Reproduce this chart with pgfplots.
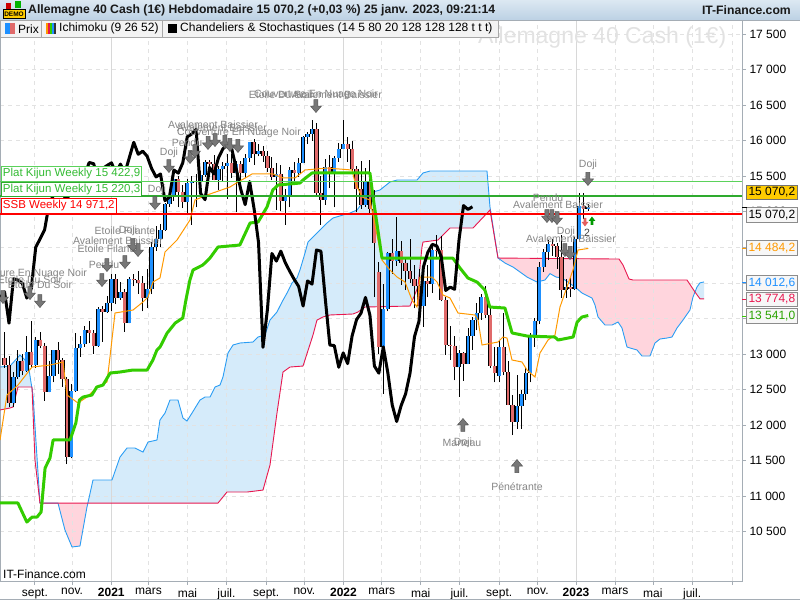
\documentclass[border=0pt]{standalone}
\usepackage{fontspec}
\setmainfont{Liberation Sans}
\usepackage{pgfplots}
\pgfplotsset{compat=1.18}
\usepackage{pgfplotstable}
\usepgfplotslibrary{fillbetween}

\definecolor{cblue}{HTML}{1E90FF}
\definecolor{cred}{HTML}{E06A6A}
\definecolor{kijun}{HTML}{33CC00}
\definecolor{tenkan}{HTML}{FF9900}
\definecolor{ssa}{HTML}{2A9DF4}
\definecolor{ssb}{HTML}{E8174F}
\definecolor{cloudb}{HTML}{D5EBFA}
\definecolor{cloudp}{HTML}{FFD5DD}
\definecolor{annot}{HTML}{858585}
\definecolor{arrowg}{HTML}{777777}
\definecolor{arrowd}{HTML}{555555}
\definecolor{hdrtop}{HTML}{DCE8F2}
\definecolor{hdrbot}{HTML}{BCD1E4}
\definecolor{gridc}{HTML}{E2E2E2}
\definecolor{yearc}{HTML}{D8D8D8}
\definecolor{framec}{HTML}{A5ADB5}
\definecolor{lgreen}{HTML}{5BD25B}
\definecolor{dgreen}{HTML}{2EAA2E}
\definecolor{tgreen}{HTML}{33BB33}
\definecolor{wmark}{HTML}{E2E2E2}
\definecolor{lgbg}{HTML}{F3F3F3}
\definecolor{lgbd}{HTML}{A8A8A8}
\definecolor{gold}{HTML}{FFCC00}

\pgfdeclareplotmark{darr}{%
  \pgfpathmoveto{\pgfpoint{-2bp}{6.5bp}}%
  \pgfpathlineto{\pgfpoint{2bp}{6.5bp}}%
  \pgfpathlineto{\pgfpoint{2bp}{0bp}}%
  \pgfpathlineto{\pgfpoint{5.5bp}{0bp}}%
  \pgfpathlineto{\pgfpoint{0bp}{-6.5bp}}%
  \pgfpathlineto{\pgfpoint{-5.5bp}{0bp}}%
  \pgfpathlineto{\pgfpoint{-2bp}{0bp}}%
  \pgfpathclose
  \pgfusepathqfillstroke}
\pgfdeclareplotmark{uarr}{%
  \pgfpathmoveto{\pgfpoint{-2bp}{-6.5bp}}%
  \pgfpathlineto{\pgfpoint{2bp}{-6.5bp}}%
  \pgfpathlineto{\pgfpoint{2bp}{0bp}}%
  \pgfpathlineto{\pgfpoint{5.5bp}{0bp}}%
  \pgfpathlineto{\pgfpoint{0bp}{6.5bp}}%
  \pgfpathlineto{\pgfpoint{-5.5bp}{0bp}}%
  \pgfpathlineto{\pgfpoint{-2bp}{0bp}}%
  \pgfpathclose
  \pgfusepathqfillstroke}
\pgfdeclareplotmark{sdarr}{%
  \pgfpathmoveto{\pgfpoint{-1.3bp}{4bp}}%
  \pgfpathlineto{\pgfpoint{1.3bp}{4bp}}%
  \pgfpathlineto{\pgfpoint{1.3bp}{0bp}}%
  \pgfpathlineto{\pgfpoint{3.4bp}{0bp}}%
  \pgfpathlineto{\pgfpoint{0bp}{-4.5bp}}%
  \pgfpathlineto{\pgfpoint{-3.4bp}{0bp}}%
  \pgfpathlineto{\pgfpoint{-1.3bp}{0bp}}%
  \pgfpathclose
  \pgfusepathqfill}
\pgfdeclareplotmark{suarr}{%
  \pgfpathmoveto{\pgfpoint{-1.3bp}{-4bp}}%
  \pgfpathlineto{\pgfpoint{1.3bp}{-4bp}}%
  \pgfpathlineto{\pgfpoint{1.3bp}{0bp}}%
  \pgfpathlineto{\pgfpoint{3.4bp}{0bp}}%
  \pgfpathlineto{\pgfpoint{0bp}{4.5bp}}%
  \pgfpathlineto{\pgfpoint{-3.4bp}{0bp}}%
  \pgfpathlineto{\pgfpoint{-1.3bp}{0bp}}%
  \pgfpathclose
  \pgfusepathqfill}

% wicks: low / high per weekly candle
\pgfplotstableread[row sep=\\]{
x y\\
-24 12800\\ -24 13310\\ -24 nan\\
-23 12250\\ -23 12970\\ -23 nan\\
-22 12250\\ -22 12750\\ -22 nan\\
-21 12650\\ -21 13060\\ -21 nan\\
-20 12700\\ -20 13000\\ -20 nan\\
-19 12750\\ -19 13250\\ -19 nan\\
-18 12800\\ -18 13460\\ -18 nan\\
-17 12800\\ -17 13240\\ -17 nan\\
-16 13080\\ -16 13310\\ -16 nan\\
-15 12340\\ -15 13150\\ -15 nan\\
-14 12460\\ -14 12900\\ -14 nan\\
-13 12600\\ -13 13060\\ -13 nan\\
-12 12720\\ -12 13170\\ -12 nan\\
-11 12540\\ -11 12950\\ -11 nan\\
-10 11450\\ -10 12680\\ -10 nan\\
-9 11530\\ -9 12580\\ -9 nan\\
-8 12470\\ -8 13300\\ -8 nan\\
-7 12960\\ -7 13250\\ -7 nan\\
-6 13100\\ -6 13400\\ -6 nan\\
-5 13150\\ -5 13460\\ -5 nan\\
-4 13000\\ -4 13340\\ -4 nan\\
-3 13100\\ -3 13660\\ -3 nan\\
-2 13170\\ -2 13680\\ -2 nan\\
-1 13580\\ -1 13810\\ -1 nan\\
0 13600\\ 0 14130\\ 0 nan\\
1 13700\\ 1 14130\\ 1 nan\\
2 13760\\ 2 14010\\ 2 nan\\
3 13310\\ 3 13920\\ 3 nan\\
4 13430\\ 4 14080\\ 4 nan\\
5 13950\\ 5 14120\\ 5 nan\\
6 13850\\ 6 14170\\ 6 nan\\
7 13600\\ 7 14100\\ 7 nan\\
8 13650\\ 8 14200\\ 8 nan\\
9 13840\\ 9 14570\\ 9 nan\\
10 14450\\ 10 14800\\ 10 nan\\
11 14510\\ 11 14830\\ 11 nan\\
12 14730\\ 12 15130\\ 12 nan\\
13 15070\\ 13 15250\\ 13 nan\\
14 15150\\ 14 15500\\ 14 nan\\
15 15060\\ 15 15500\\ 15 nan\\
16 15050\\ 16 15370\\ 16 nan\\
17 14950\\ 17 15460\\ 17 nan\\
18 14820\\ 18 15500\\ 18 nan\\
19 15060\\ 19 15530\\ 19 nan\\
20 15330\\ 20 15570\\ 20 nan\\
21 15490\\ 21 15730\\ 21 nan\\
22 15520\\ 22 15730\\ 22 nan\\
23 15440\\ 23 15800\\ 23 nan\\
24 15300\\ 24 15640\\ 24 nan\\
25 15420\\ 25 15700\\ 25 nan\\
26 15180\\ 26 15810\\ 26 nan\\
27 15480\\ 27 15810\\ 27 nan\\
28 14990\\ 28 15710\\ 28 nan\\
29 15410\\ 29 15720\\ 29 nan\\
30 15470\\ 30 15810\\ 30 nan\\
31 15700\\ 31 15980\\ 31 nan\\
32 15660\\ 32 16030\\ 32 nan\\
33 15780\\ 33 15950\\ 33 nan\\
34 15700\\ 34 15930\\ 34 nan\\
35 15560\\ 35 15850\\ 35 nan\\
36 15440\\ 36 15770\\ 36 nan\\
37 15030\\ 37 15680\\ 37 nan\\
38 15010\\ 38 15660\\ 38 nan\\
39 14820\\ 39 15320\\ 39 nan\\
40 15060\\ 40 15630\\ 40 nan\\
41 15430\\ 41 15700\\ 41 nan\\
42 15490\\ 42 15760\\ 42 nan\\
43 15680\\ 43 16070\\ 43 nan\\
44 15950\\ 44 16120\\ 44 nan\\
45 16000\\ 45 16290\\ 45 nan\\
46 15230\\ 46 16250\\ 46 nan\\
47 14820\\ 47 15500\\ 47 nan\\
48 15100\\ 48 15740\\ 48 nan\\
49 15340\\ 49 15800\\ 49 nan\\
50 15060\\ 50 15780\\ 50 nan\\
51 15700\\ 51 15960\\ 51 nan\\
52 15880\\ 52 16290\\ 52 nan\\
53 15700\\ 53 16050\\ 53 nan\\
54 15550\\ 54 16000\\ 54 nan\\
55 14990\\ 55 15640\\ 55 nan\\
56 15040\\ 56 15720\\ 56 nan\\
57 15070\\ 57 15620\\ 57 nan\\
58 14970\\ 58 15730\\ 58 nan\\
59 13800\\ 59 15300\\ 59 nan\\
60 13000\\ 60 14300\\ 60 nan\\
61 12440\\ 61 13980\\ 61 nan\\
62 13600\\ 62 14430\\ 62 nan\\
63 14130\\ 63 14620\\ 63 nan\\
64 14240\\ 64 14930\\ 64 nan\\
65 13970\\ 65 14590\\ 65 nan\\
66 13900\\ 66 14370\\ 66 nan\\
67 14000\\ 67 14620\\ 67 nan\\
68 13640\\ 68 14250\\ 68 nan\\
69 13570\\ 69 14190\\ 69 nan\\
70 13380\\ 70 14060\\ 70 nan\\
71 13800\\ 71 14250\\ 71 nan\\
72 13860\\ 72 14520\\ 72 nan\\
73 14330\\ 73 14680\\ 73 nan\\
74 13740\\ 74 14660\\ 74 nan\\
75 12990\\ 75 13800\\ 75 nan\\
76 12920\\ 76 13390\\ 76 nan\\
77 12630\\ 77 13250\\ 77 nan\\
78 12400\\ 78 13050\\ 78 nan\\
79 12620\\ 79 13030\\ 79 nan\\
80 12860\\ 80 13370\\ 80 nan\\
81 13060\\ 81 13520\\ 81 nan\\
82 13330\\ 82 13720\\ 82 nan\\
83 13480\\ 83 13850\\ 83 nan\\
84 13500\\ 84 13950\\ 84 nan\\
85 12800\\ 85 13660\\ 85 nan\\
86 12600\\ 86 13100\\ 86 nan\\
87 12600\\ 87 13180\\ 87 nan\\
88 12700\\ 88 13570\\ 88 nan\\
89 12280\\ 89 12900\\ 89 nan\\
90 11860\\ 90 12420\\ 90 nan\\
91 11950\\ 91 12700\\ 91 nan\\
92 11950\\ 92 12500\\ 92 nan\\
93 12350\\ 93 12800\\ 93 nan\\
94 12600\\ 94 13300\\ 94 nan\\
95 13100\\ 95 13500\\ 95 nan\\
96 13420\\ 96 14300\\ 96 nan\\
97 14150\\ 97 14480\\ 97 nan\\
98 14320\\ 98 14600\\ 98 nan\\
99 14380\\ 99 14620\\ 99 nan\\
100 14200\\ 100 14560\\ 100 nan\\
101 13790\\ 101 14680\\ 101 nan\\
102 13790\\ 102 14050\\ 102 nan\\
103 13800\\ 103 14080\\ 103 nan\\
104 13900\\ 104 14650\\ 104 nan\\
105 14600\\ 105 15270\\ 105 nan\\
106 14900\\ 106 15270\\ 106 nan\\
107 15010\\ 107 15110\\ 107 nan\\
}\wicks

% rising candles: open / close
\pgfplotstableread[row sep=\\]{
x y\\
-22 12313\\ -22 12674\\ -22 nan\\
-21 12674\\ -21 12901\\ -21 nan\\
-19 12765\\ -19 13033\\ -19 nan\\
-17 12842\\ -17 13202\\ -17 nan\\
-14 12469\\ -14 12689\\ -14 nan\\
-13 12689\\ -13 13051\\ -13 nan\\
-9 11556\\ -9 12480\\ -9 nan\\
-8 12480\\ -8 13077\\ -8 nan\\
-7 13077\\ -7 13137\\ -7 nan\\
-6 13137\\ -6 13335\\ -6 nan\\
-3 13114\\ -3 13630\\ -3 nan\\
-1 13587\\ -1 13719\\ -1 nan\\
0 13719\\ 0 14050\\ 0 nan\\
2 13787\\ 2 13874\\ 2 nan\\
4 13433\\ 4 14057\\ 4 nan\\
8 13786\\ 8 13920\\ 8 nan\\
9 13920\\ 9 14502\\ 9 nan\\
10 14502\\ 10 14621\\ 10 nan\\
11 14621\\ 11 14749\\ 11 nan\\
12 14749\\ 12 15107\\ 12 nan\\
13 15107\\ 13 15234\\ 13 nan\\
14 15234\\ 14 15460\\ 14 nan\\
17 15136\\ 17 15400\\ 17 nan\\
18 15400\\ 18 15416\\ 18 nan\\
19 15416\\ 19 15437\\ 19 nan\\
20 15437\\ 20 15520\\ 20 nan\\
21 15520\\ 21 15693\\ 21 nan\\
24 15448\\ 24 15607\\ 24 nan\\
25 15607\\ 25 15650\\ 25 nan\\
26 15650\\ 26 15688\\ 26 nan\\
28 15540\\ 28 15670\\ 28 nan\\
30 15544\\ 30 15761\\ 30 nan\\
31 15761\\ 31 15977\\ 31 nan\\
33 15808\\ 33 15852\\ 33 nan\\
37 15490\\ 37 15531\\ 37 nan\\
39 15156\\ 39 15206\\ 39 nan\\
40 15206\\ 40 15587\\ 40 nan\\
42 15543\\ 42 15689\\ 42 nan\\
43 15689\\ 43 16054\\ 43 nan\\
44 16054\\ 44 16094\\ 44 nan\\
45 16094\\ 45 16160\\ 45 nan\\
48 15170\\ 48 15623\\ 48 nan\\
50 15532\\ 50 15756\\ 50 nan\\
51 15756\\ 51 15885\\ 51 nan\\
52 15885\\ 52 15948\\ 52 nan\\
57 15100\\ 57 15425\\ 57 nan\\
61 13094\\ 61 13628\\ 61 nan\\
62 13628\\ 62 14413\\ 62 nan\\
64 14306\\ 64 14446\\ 64 nan\\
70 13674\\ 70 14027\\ 70 nan\\
72 13982\\ 72 14462\\ 72 nan\\
78 12813\\ 78 13015\\ 78 nan\\
80 12864\\ 80 13254\\ 80 nan\\
81 13254\\ 81 13484\\ 81 nan\\
82 13484\\ 82 13574\\ 82 nan\\
83 13574\\ 83 13795\\ 83 nan\\
87 12690\\ 87 13100\\ 87 nan\\
91 12050\\ 91 12273\\ 91 nan\\
92 12273\\ 92 12438\\ 92 nan\\
93 12438\\ 93 12731\\ 93 nan\\
94 12731\\ 94 13243\\ 94 nan\\
95 13243\\ 95 13460\\ 95 nan\\
96 13460\\ 96 14224\\ 96 nan\\
97 14224\\ 97 14431\\ 97 nan\\
98 14431\\ 98 14541\\ 98 nan\\
102 13893\\ 102 13940\\ 102 nan\\
104 13910\\ 104 14610\\ 104 nan\\
105 14610\\ 105 15087\\ 105 nan\\
107 15033\\ 107 15070\\ 107 nan\\
}\upbodies

% falling candles: open / close
\pgfplotstableread[row sep=\\]{
x y\\
-24 12950\\ -24 12838\\ -24 nan\\
-23 12838\\ -23 12313\\ -23 nan\\
-20 12901\\ -20 12765\\ -20 nan\\
-18 13033\\ -18 12842\\ -18 nan\\
-16 13202\\ -16 13116\\ -16 nan\\
-15 13116\\ -15 12469\\ -15 nan\\
-12 13051\\ -12 12909\\ -12 nan\\
-11 12909\\ -11 12646\\ -11 nan\\
-10 12646\\ -10 11556\\ -10 nan\\
-5 13335\\ -5 13298\\ -5 nan\\
-4 13298\\ -4 13114\\ -4 nan\\
-2 13630\\ -2 13587\\ -2 nan\\
1 14050\\ 1 13787\\ 1 nan\\
3 13874\\ 3 13433\\ 3 nan\\
5 14057\\ 5 14040\\ 5 nan\\
6 14040\\ 6 13993\\ 6 nan\\
7 13993\\ 7 13786\\ 7 nan\\
15 15460\\ 15 15280\\ 15 nan\\
16 15280\\ 16 15136\\ 16 nan\\
22 15693\\ 22 15675\\ 22 nan\\
23 15675\\ 23 15448\\ 23 nan\\
27 15688\\ 27 15540\\ 27 nan\\
29 15670\\ 29 15544\\ 29 nan\\
32 15977\\ 32 15808\\ 32 nan\\
34 15852\\ 34 15781\\ 34 nan\\
35 15781\\ 35 15609\\ 35 nan\\
36 15609\\ 36 15490\\ 36 nan\\
38 15531\\ 38 15156\\ 38 nan\\
41 15587\\ 41 15543\\ 41 nan\\
46 16160\\ 46 15257\\ 46 nan\\
47 15257\\ 47 15170\\ 47 nan\\
49 15623\\ 49 15532\\ 49 nan\\
53 15948\\ 53 15883\\ 53 nan\\
54 15883\\ 54 15603\\ 54 nan\\
55 15603\\ 55 15318\\ 55 nan\\
56 15318\\ 56 15100\\ 56 nan\\
58 15425\\ 58 15042\\ 58 nan\\
59 15042\\ 59 14567\\ 59 nan\\
60 14150\\ 60 13094\\ 60 nan\\
63 14413\\ 63 14306\\ 63 nan\\
65 14446\\ 65 14284\\ 65 nan\\
66 14284\\ 66 14163\\ 66 nan\\
67 14163\\ 67 14050\\ 67 nan\\
68 14050\\ 68 13950\\ 68 nan\\
69 13950\\ 69 13674\\ 69 nan\\
71 14027\\ 71 13982\\ 71 nan\\
73 14462\\ 73 14445\\ 73 nan\\
74 14460\\ 74 13762\\ 74 nan\\
75 13762\\ 75 13126\\ 75 nan\\
76 13126\\ 76 13110\\ 76 nan\\
77 13118\\ 77 12813\\ 77 nan\\
79 13015\\ 79 12864\\ 79 nan\\
84 13795\\ 84 13544\\ 84 nan\\
85 13544\\ 85 12830\\ 85 nan\\
86 12830\\ 86 12730\\ 86 nan\\
88 13100\\ 88 12741\\ 88 nan\\
89 12741\\ 89 12284\\ 89 nan\\
90 12284\\ 90 12050\\ 90 nan\\
99 14541\\ 99 14520\\ 99 nan\\
100 14520\\ 100 14370\\ 100 nan\\
101 14370\\ 101 13893\\ 101 nan\\
103 13940\\ 103 13910\\ 103 nan\\
106 15087\\ 106 15033\\ 106 nan\\
}\downbodies

\begin{document}
\begin{tikzpicture}[x=1bp,y=1bp]
\begin{scope}[x=1bp,y=-1bp,shift={(0,600bp)}]
  \node[anchor=base west, inner sep=0pt, font=\fontsize{23bp}{26bp}\selectfont, text=wmark] at (478,44) {Allemagne 40 Cash (1€)};
\end{scope}

\begin{axis}[
  at={(0bp,19bp)}, anchor=south west,
  width=742bp, height=561bp, scale only axis,
  set layers,
  fill between/on layer=axis background,
  xmin=-25.02, xmax=141.5, ymin=9807, ymax=17697,
  axis line style={draw=framec, line width=0.8bp},
  xtick={-17.2,-8.85,-0.05,8.3,17.05,25.8,34.7,43.3,52.05,60.65,69.4,78.1,87.0,95.65,104.25,113.0,121.5,130.3,139.25},
  xticklabels={sept.,nov.,\textbf{2021},mars,mai,juil.,sept.,nov.,\textbf{2022},mars,mai,juil.,sept.,nov.,\textbf{2023},mars,mai,juil.,},
  extra x ticks={-0.05,52.05,104.25},
  extra x tick labels={},
  extra x tick style={grid=major, major grid style={draw=yearc, solid, line width=0.8bp}},
  ytick={10500,11000,...,17500},
  yticklabels={10 500,11 000,11 500,12 000,12 500,13 000,13 500,14 000,14 500,15 000,15 500,16 000,16 500,17 000,17 500},
  ytick pos=right, yticklabel pos=right, xtick pos=bottom,
  tick align=outside, major tick length=4bp,
  tick style={draw=framec, line width=0.7bp},
  ticklabel style={font=\fontsize{12bp}{14bp}\selectfont, text=black},
  xmajorgrids, ymajorgrids,
  major grid style={draw=gridc, dash pattern=on 4bp off 4bp, line width=0.7bp},
  unbounded coords=jump,
  clip=true,
]
% Ichimoku cloud (Senkou A and Senkou B, shifted 26 weeks ahead)
\addplot[name path=SA, draw=none, forget plot] coordinates {
(-25.02,12816) (-22.78,12830) (-20.53,12985) (-18.74,12873) (-17.62,12423) (-16.05,10903) (-12.01,10903) (-10.44,10524) (-8.86,10285) (-7.07,10299) (-5.50,10847) (-4.15,11227) (0.11,11227) (1.91,11550) (3.48,11677) (5.27,11677) (7.07,11621) (8.19,11761) (10.21,11790) (10.88,12071) (12.01,12169) (13.13,12352) (14.92,12352) (16.04,12099) (16.94,12057) (18.07,12169) (19.86,12352) (20.98,12394) (22.11,12394) (23.23,12535) (24.35,12563) (25.02,12676) (26.14,13013) (27.27,13126) (28.84,13154) (31.76,13168) (32.88,13238) (34.45,13266) (35.57,13477) (37.14,13590) (38.27,13731) (39.39,13857) (40.51,13998) (41.63,14068) (42.30,14181) (43.43,14420) (44.10,14574) (45.00,14631) (46.34,14715) (48.36,14842) (49.71,14912) (51.95,14954) (53.52,14982) (55.09,15024) (56.44,15137) (57.56,15236) (58.69,15278) (60.26,15306) (62.50,15418) (64.08,15446) (68.56,15446) (69.91,15545) (71.48,15573) (84.27,15573) (84.94,15067) (86.74,14349) (88.31,14279) (90.10,14223) (93.25,14082) (95.49,14012) (97.29,14040) (98.41,14130) (99.76,14082) (101.10,14068) (104.02,13942) (105.59,13857) (107.38,13801) (107.83,13787) (108.51,13688) (109.18,13520) (110.75,13407) (112.32,13407) (113.67,13449) (114.56,13365) (115.69,13098) (116.36,13084) (117.93,13056) (119.05,12971) (120.85,12971) (121.97,13154) (123.09,13210) (124.66,13224) (125.79,13238) (126.91,13365) (128.25,13477) (129.82,13618) (130.50,13801) (131.40,13942) (132.07,14000) (132.97,14013)};
\addplot[name path=SB, draw=none, forget plot] coordinates {
(-25.02,12212) (-22.78,12240) (-22.10,12254) (-20.98,12535) (-17.84,12535) (-17.17,11508) (-16.05,10903) (23.90,10903) (25.92,11058) (30.41,11058) (34.00,11086) (35.57,11438) (37.14,12169) (38.49,12746) (40.06,12816) (42.98,12830) (45.22,13266) (46.12,13477) (47.46,13520) (49.03,13548) (54.20,13562) (55.32,13590) (56.89,13660) (66.99,13674) (68.78,13942) (69.68,14504) (69.91,14574) (73.27,14602) (74.40,14673) (75.97,14771) (81.13,14771) (84.94,15024) (86.74,14349) (113.89,14335) (114.79,14251) (116.14,14054) (117.03,14040) (129.15,14040) (130.95,13871) (132.07,13775) (132.97,13775)};
\addplot[cloudb] fill between[of=SA and SB, soft clip={domain=-25.02:-16.05}];
\addplot[cloudp] fill between[of=SA and SB, soft clip={domain=-12.01:-5.3}];
\addplot[cloudb] fill between[of=SA and SB, soft clip={domain=-5.3:86.74}];
\addplot[cloudp] fill between[of=SA and SB, soft clip={domain=86.74:130.95}];
\addplot[cloudb] fill between[of=SA and SB, soft clip={domain=130.95:132.97}];
\addplot[ssa, line width=0.9bp] coordinates {
(-25.02,12816) (-22.78,12830) (-20.53,12985) (-18.74,12873) (-17.62,12423) (-16.05,10903) (-12.01,10903) (-10.44,10524) (-8.86,10285) (-7.07,10299) (-5.50,10847) (-4.15,11227) (0.11,11227) (1.91,11550) (3.48,11677) (5.27,11677) (7.07,11621) (8.19,11761) (10.21,11790) (10.88,12071) (12.01,12169) (13.13,12352) (14.92,12352) (16.04,12099) (16.94,12057) (18.07,12169) (19.86,12352) (20.98,12394) (22.11,12394) (23.23,12535) (24.35,12563) (25.02,12676) (26.14,13013) (27.27,13126) (28.84,13154) (31.76,13168) (32.88,13238) (34.45,13266) (35.57,13477) (37.14,13590) (38.27,13731) (39.39,13857) (40.51,13998) (41.63,14068) (42.30,14181) (43.43,14420) (44.10,14574) (45.00,14631) (46.34,14715) (48.36,14842) (49.71,14912) (51.95,14954) (53.52,14982) (55.09,15024) (56.44,15137) (57.56,15236) (58.69,15278) (60.26,15306) (62.50,15418) (64.08,15446) (68.56,15446) (69.91,15545) (71.48,15573) (84.27,15573) (84.94,15067) (86.74,14349) (88.31,14279) (90.10,14223) (93.25,14082) (95.49,14012) (97.29,14040) (98.41,14130) (99.76,14082) (101.10,14068) (104.02,13942) (105.59,13857) (107.38,13801) (107.83,13787) (108.51,13688) (109.18,13520) (110.75,13407) (112.32,13407) (113.67,13449) (114.56,13365) (115.69,13098) (116.36,13084) (117.93,13056) (119.05,12971) (120.85,12971) (121.97,13154) (123.09,13210) (124.66,13224) (125.79,13238) (126.91,13365) (128.25,13477) (129.82,13618) (130.50,13801) (131.40,13942) (132.07,14000) (132.97,14013)};
\addplot[ssb, line width=0.9bp] coordinates {
(-25.02,12212) (-22.78,12240) (-22.10,12254) (-20.98,12535) (-17.84,12535) (-17.17,11508) (-16.05,10903) (23.90,10903) (25.92,11058) (30.41,11058) (34.00,11086) (35.57,11438) (37.14,12169) (38.49,12746) (40.06,12816) (42.98,12830) (45.22,13266) (46.12,13477) (47.46,13520) (49.03,13548) (54.20,13562) (55.32,13590) (56.89,13660) (66.99,13674) (68.78,13942) (69.68,14504) (69.91,14574) (73.27,14602) (74.40,14673) (75.97,14771) (81.13,14771) (84.94,15024) (86.74,14349) (113.89,14335) (114.79,14251) (116.14,14054) (117.03,14040) (129.15,14040) (130.95,13871) (132.07,13775) (132.97,13775)};

% candlesticks
\addplot[black, line width=0.9bp] table {\wicks};
\addplot[black, line width=4.2bp] table {\upbodies};
\addplot[cblue, line width=2.8bp] table {\upbodies};
\addplot[black, line width=4.2bp] table {\downbodies};
\addplot[cred, line width=2.8bp] table {\downbodies};

% Tenkan
\addplot[tenkan, line width=1bp] coordinates {
(-25.02,11789) (-23.45,12423) (-20.98,12563) (-17.84,12816) (-13.80,12844) (-10.88,12887) (-9.99,12423) (-7.52,12310) (-5.50,12394) (-3.25,12535) (-1.01,12605) (-0.34,12957) (0.79,13576) (4.83,13618) (7.07,13731) (8.19,13801) (9.31,14012) (10.88,14068) (12.01,14434) (14.70,14602) (17.62,14884) (18.74,15165) (21.43,15235) (26.59,15348) (28.39,15418) (30.41,15489) (31.53,15531) (36.24,15531) (38.49,15475) (41.18,15475) (43.43,15587) (48.36,15615) (53.97,15587) (54.65,15418) (56.22,15207) (58.01,15165) (59.81,14602) (60.71,14321) (62.50,14181) (64.08,14082) (65.87,14012) (67.44,13759) (68.56,13660) (69.24,14082) (71.93,14082) (73.05,14012) (74.40,13829) (75.97,13787) (77.76,13576) (81.58,13548) (82.25,13477) (83.15,13126) (86.74,13168) (87.86,13238) (88.76,13224) (89.88,12915) (92.12,12887) (93.25,12774) (95.04,12676) (96.16,13013) (97.96,13196) (99.53,13266) (100.65,13660) (102.22,13942) (103.57,14181) (104.69,14462) (107,14484)};

% Kijun
\addplot[kijun, line width=3bp, line join=round] coordinates {
(-25.02,10904) (-21.0,10904) (-19.0,10636) (-17.8,10707) (-16.7,10707) (-15.8,10777) (-14.9,11396) (-13.8,11537) (-13.1,11790) (-9.3,11790) (-8.0,12029) (-7.2,12352) (-6.4,12394) (-4.4,12422) (-3.3,12535) (-1.9,12563) (-0.3,12732) (1.9,12746) (4.8,12774) (8.0,12774) (9.3,12915) (10.2,13056) (10.9,13098) (12.5,13295) (14.3,13435) (16.0,13506) (16.7,13759) (17.6,14040) (18.3,14181) (20.5,14251) (22.1,14349) (23.9,14504) (28.8,14532) (31.1,14842) (32.9,14856) (34.9,15067) (36.2,15306) (37.4,15376) (42.3,15404) (43.0,15447) (45.0,15545) (58.0,15545) (58.7,15207) (60.7,14349) (76.6,14349) (78.2,14209) (80.0,14068) (82.0,14012) (83.8,13899) (84.9,13660) (88.3,13646) (89.9,13295) (93.3,13252) (99.5,13238) (100.2,13196) (103.6,13238) (104.5,13449) (105.6,13520) (107,13541)};

% Chikou (close plotted 26 weeks back)
\addplot[black, line width=3bp, line join=round] coordinates {
(-25,13787) (-24,13874) (-23,13433) (-22,14057) (-21,14040) (-20,13993) (-19,13786) (-18,13920) (-17,14502) (-16,14621) (-15,14749) (-14,15107) (-13,15234) (-12,15460) (-11,15280) (-10,15136) (-9,15400) (-8,15416) (-7,15437) (-6,15520) (-5,15693) (-4,15675) (-3,15448) (-2,15607) (-1,15650) (0,15688) (1,15540) (2,15670) (3,15544) (4,15761) (5,15977) (6,15808) (7,15852) (8,15781) (9,15609) (10,15490) (11,15531) (12,15156) (13,15206) (14,15587) (15,15543) (16,15689) (17,16054) (18,16094) (19,16160) (20,15257) (21,15170) (22,15623) (23,15532) (24,15756) (25,15885) (26,15948) (27,15883) (28,15603) (29,15318) (30,15100) (31,15425) (32,15042) (33,14567) (34,13094) (35,13628) (36,14413) (37,14306) (38,14446) (39,14284) (40,14163) (41,14050) (42,13950) (43,13674) (44,14027) (45,13982) (46,14462) (47,14445) (48,13762) (49,13126) (50,13118) (51,12813) (52,13015) (53,12864) (54,13254) (55,13484) (56,13574) (57,13795) (58,13544) (59,12830) (60,12730) (61,13100) (62,12741) (63,12284) (64,12050) (65,12273) (66,12438) (67,12731) (68,13243) (69,13460) (70,14224) (71,14431) (72,14541) (73,14520) (74,14370) (75,13893) (76,13940) (77,13910) (78,14610) (79,15087) (80,15033) (81,15070)};

% level lines
\addplot[lgreen, line width=1.6bp] coordinates {(-25.02,15422.9) (141.5,15422.9)};
\addplot[dgreen, line width=1.6bp] coordinates {(-25.02,15220.3) (141.5,15220.3)};
\addplot[red, line width=1.6bp] coordinates {(-25.02,14971.2) (141.5,14971.2)};

% pattern arrows
\addplot[only marks, mark=darr, mark options={fill=arrowg, draw=arrowd, line width=0.5bp}] coordinates {
(-24.35,13801) (-18.29,13857) (-16.05,13744) (-2.13,14040) (-1.01,14251) (3.03,14293) (4.82,14532) (5.95,14462) (9.76,15123) (12.90,15643) (17.62,15770) (18.74,15854) (21.66,15967) (23.23,16009) (25.47,15981) (26.59,15939) (28.39,15925) (45.89,16487) (106.93,15461) (97.73,14940) (98.85,14940) (99.98,14912) (101.77,14462) (102.90,14420)};
\addplot[only marks, mark=uarr, mark options={fill=arrowg, draw=arrowd, line width=0.5bp}] coordinates {(78.88,12001) (91.00,11424)};
\addplot[only marks, mark=sdarr, mark options={fill=cred!90!red}] coordinates {(106.26,14856)};
\addplot[only marks, mark=suarr, mark options={fill=green!60!black}] coordinates {(107.83,14870)};

% pattern labels
\begin{scope}[every node/.style={font=\fontsize{10.5bp}{12bp}\selectfont, text=annot, inner sep=0pt}]
\node at (-19.41,14124) {Couverture En Nuage Noir};
\node at (-16.05,13970) {Etoile Du Soir};
\node at (-18.3,14050) {Etoile Du Soir};
\node at (3.03,14729) {Etoile Filante};
\node at (3.70,14729) {Doji};
\node at (1.46,14589) {Avalement Baissier};
\node at (-0.79,14476) {Etoile Filante};
\node at (-1.68,14251) {Pendu};
\node at (10.21,15306) {Doji};
\node at (12.90,15826) {Doji};
\node at (22.78,16220) {Avalement Baissier};
\node at (24.80,16178) {Avalement Baissier};
\node at (28.61,16107) {Couverture En Nuage Noir};
\node at (16.94,15967) {Pendu};
\node at (38.04,16642) {Etoile Du Soir};
\node at (45.89,16642) {Couverture En Nuage Noir};
\node at (50.61,16642) {Avalement Baissier};
\node at (78.66,11747) {Marteau};
\node at (78.88,11747) {Doji};
\node at (91.00,11128) {Pénétrante};
\node at (106.93,15657) {Doji};
\node at (97.96,15193) {Pendu};
\node at (100.20,15095) {Avalement Baissier};
\node at (102.00,14715) {Doji};
\node at (103.12,14616) {Avalement Baissier};
\node[text=black!75] at (106.71,14701) {2};
\end{scope}
\end{axis}

\begin{scope}[x=1bp,y=-1bp,shift={(0,600bp)}]
  % header
  \shade[top color=hdrtop, bottom color=hdrbot] (0,0) rectangle (800,20);
  \draw[framec, line width=0.8bp] (0,20) -- (800,20);
  \fill[red!80!black] (6,3) rectangle (11,9);
  \fill[green!70!black] (15,1.5) rectangle (21,8);
  \fill[gold] (3,9) rectangle (25,18.5);
  \draw[black, line width=0.5bp] (3,9) rectangle (25,18.5);
  \node[font=\bfseries\fontsize{6.5bp}{7bp}\selectfont, inner sep=0pt] at (14,14) {DEMO};
  \node[anchor=west, inner sep=0pt, font=\bfseries\fontsize{12.2bp}{14bp}\selectfont, text=black!90] at (28,10.5) {Allemagne 40 Cash (1€) Hebdomadaire 15 070,2 (+0,03 \%) 25 janv. 2023, 09:21:14};
  \node[anchor=east, inner sep=0pt, font=\bfseries\fontsize{12.2bp}{14bp}\selectfont, text=black!90] at (791,10.5) {IT-Finance.com};
  % legend row
  \filldraw[fill=lgbg, draw=lgbd, line width=0.6bp] (0,20.5) rectangle (41,37);
  \filldraw[fill=lgbg, draw=lgbd, line width=0.6bp] (41,20.5) rectangle (162,37);
  \filldraw[fill=lgbg, draw=lgbd, line width=0.6bp] (162,20.5) rectangle (498,37);
  \fill[cblue] (5,23.5) rectangle (10,34);
  \fill[cred] (10,23.5) rectangle (15,34);
  \fill[tenkan] (46,23.5) rectangle (48,34);
  \fill[ssb] (48,23.5) rectangle (50,34);
  \fill[kijun] (50,23.5) rectangle (52,34);
  \fill[cblue] (52,23.5) rectangle (54,34);
  \fill[black!80] (54,23.5) rectangle (56,34);
  \fill[black] (168,24) rectangle (177,33.5);
  \begin{scope}[every node/.style={anchor=west, inner sep=0pt, font=\fontsize{12bp}{14bp}\selectfont}]
    \node at (18,28.8) {Prix};
    \node at (59,28.8) {Ichimoku (9 26 52)};
    \node at (180,28.8) {Chandeliers \& Stochastiques (14 5 80 20 128 128 128 t t t)};
  \end{scope}
  % left level labels
  \node[draw=lgreen, fill=white, line width=0.9bp, anchor=west, inner xsep=1.5bp, inner ysep=0pt, minimum height=15bp, font=\fontsize{11.5bp}{13bp}\selectfont, text=tgreen] at (1,174) {Plat Kijun Weekly 15 422,9};
  \node[draw=dgreen, fill=white, line width=0.9bp, anchor=west, inner xsep=1.5bp, inner ysep=0pt, minimum height=14.5bp, font=\fontsize{11.5bp}{13bp}\selectfont, text=tgreen] at (1,189.5) {Plat Kijun Weekly 15 220,3};
  \node[draw=red, fill=white, line width=0.9bp, anchor=west, inner xsep=1.5bp, inner ysep=0pt, minimum height=15bp, font=\fontsize{11.5bp}{13bp}\selectfont, text=red] at (1,206) {SSB Weekly 14 971,2};
  % right value boxes
  \begin{scope}[every node/.style={anchor=west, minimum width=51bp, minimum height=14.5bp, inner sep=0pt, line width=0.8bp, font=\fontsize{12bp}{14bp}\selectfont}]
    \node[draw=black!55, fill=gold, text=black] at (746,192.5) {15 070,2};
    \node[draw=black!45, fill=black!3, text=black] at (746,215) {15 070,2};
    \node[draw=black!45, fill=black!3, text=tenkan] at (746,248) {14 484,2};
    \node[draw=black!45, fill=black!3, text=cblue] at (746,283) {14 012,6};
    \node[draw=black!45, fill=black!3, text=ssb] at (746,299.5) {13 774,8};
    \node[draw=black!45, fill=black!3, text=kijun!80!black] at (746,316) {13 541,0};
  \end{scope}
  \draw[black, line width=0.8bp] (742,207.5) -- (747,207.5);
  \draw[tenkan, line width=0.8bp] (742,248) -- (746,248);
  \draw[cblue, line width=0.8bp] (742,282) -- (746,282);
  \draw[ssb, line width=0.8bp] (742,299) -- (746,299);
  \draw[kijun, line width=0.8bp] (742,316) -- (746,316);
  % footer text
  \node[anchor=west, inner sep=0pt, font=\fontsize{12bp}{14bp}\selectfont] at (3,574.5) {IT-Finance.com};
  \draw[framec, line width=0.8bp] (0,599.5) -- (800,599.5);
\end{scope}
\pgfresetboundingbox
\useasboundingbox (0,0) rectangle (800,600);
\end{tikzpicture}
\end{document}
